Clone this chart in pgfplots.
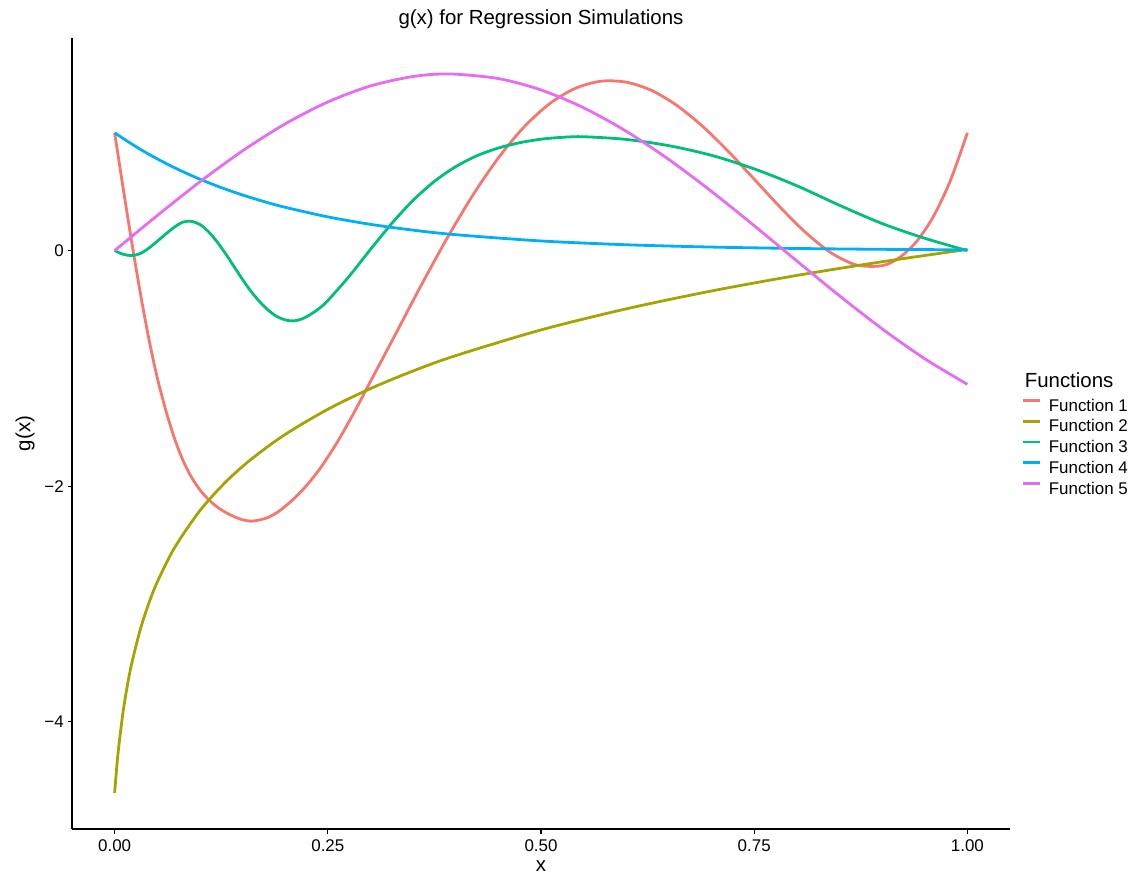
\documentclass[border=0pt]{standalone}
\usepackage{fontspec}
\setmainfont{Liberation Sans}
\usepackage{pgfplots}
\pgfplotsset{compat=1.18}
\definecolor{cA}{HTML}{F8766D}
\definecolor{cB}{HTML}{A3A500}
\definecolor{cC}{HTML}{00BF7D}
\definecolor{cD}{HTML}{00B0F6}
\definecolor{cE}{HTML}{E76BF3}
\begin{document}
\begin{tikzpicture}
\useasboundingbox (0,0) rectangle (1138bp,875bp);
\begin{axis}[
  at={(72bp,46bp)}, anchor=south west,
  scale only axis, width=938bp, height=791bp,
  xmin=-0.05, xmax=1.05, ymin=-4.9105, ymax=1.8053,
  axis x line*=bottom, axis y line*=left,
  axis line style={-, line width=1.2bp, black},
  xtick={0,0.25,0.5,0.75,1}, xticklabels={0.00,0.25,0.50,0.75,1.00},
  ytick={-4,-2,0}, yticklabels={−4,−2,0},
  tick align=outside, major tick length=4.5bp,
  tick style={line width=1.2bp, black},
  ticklabel style={font=\fontsize{17}{17}\selectfont, text=black},
  xticklabel style={anchor=center, yshift=-12.4bp},
  yticklabel style={anchor=east, inner sep=0pt, xshift=-3.6bp},
  title={g(x) for Regression Simulations},
  title style={at={(axis description cs:0.5,1.0164)}, anchor=center, yshift=0pt, font=\fontsize{20.5}{20.5}\selectfont},
  xlabel={x},
  xlabel style={at={(axis description cs:0.5,-0.0468)}, anchor=center, font=\fontsize{20.5}{20.5}\selectfont},
  ylabel={g(x)},
  ylabel style={at={(axis description cs:-0.050,0.5)}, anchor=center, font=\fontsize{20.5}{20.5}\selectfont},
  legend cell align=left,
  legend style={draw=none, fill=none, at={(axis description cs:1.0128,0.571)}, anchor=north west,
    inner sep=0pt, outer sep=0pt, row sep=3.75bp, column sep=7bp,
    nodes={inner sep=0pt, text height=13bp, text depth=4bp},
    font=\fontsize{17}{17}\selectfont},
  legend image code/.code={\draw[#1, line width=2.8bp] (0bp,6.1bp) -- (17bp,6.1bp);},
  every axis plot/.append style={line width=2.8bp, no markers, smooth},
]
\addlegendimage{empty legend}
\addlegendentry{\hspace{-24bp}\raisebox{3bp}{\fontsize{20.5}{20.5}\selectfont Functions}}

\addplot[cA] coordinates {
(0,1.0) (0.01,0.53) (0.02,0.075) (0.03,-0.355) (0.04,-0.745) (0.05,-1.08)
(0.06,-1.355) (0.07,-1.59) (0.08,-1.779) (0.09,-1.922) (0.10,-2.031)
(0.11,-2.113) (0.12,-2.175) (0.13,-2.222) (0.14,-2.258) (0.15,-2.285)
(0.16,-2.297) (0.17,-2.287) (0.18,-2.265) (0.19,-2.226) (0.2,-2.171)
(0.21,-2.108) (0.22,-2.035) (0.23,-1.952) (0.24,-1.859) (0.25,-1.753)
(0.26,-1.639) (0.27,-1.515) (0.28,-1.385) (0.29,-1.249)
(0.3,-1.111) (0.33,-0.701) (0.36,-0.288) (0.39,0.107)
(0.42,0.470) (0.45,0.787) (0.48,1.049) (0.51,1.247) (0.54,1.377)
(0.57,1.438) (0.6,1.430) (0.63,1.359) (0.66,1.229) (0.69,1.052)
(0.72,0.840) (0.75,0.607) (0.78,0.372) (0.81,0.156) (0.84,-0.018)
(0.87,-0.122) (0.9,-0.128) (0.92,-0.061) (0.94,0.074) (0.96,0.288)
(0.98,0.593) (1.0,1.0)
};
\addlegendentry{Function 1}

\addplot[cB] coordinates {
(0,-4.6052) (0.0025,-4.3820) (0.005,-4.1997) (0.01,-3.9120) (0.015,-3.6889)
(0.02,-3.5066) (0.03,-3.2189) (0.04,-2.9957) (0.05,-2.8134) (0.07,-2.5257)
(0.1,-2.2073) (0.13,-1.9661) (0.16,-1.7720) (0.2,-1.5606) (0.25,-1.3471)
(0.3,-1.1712) (0.35,-1.0217) (0.4,-0.8916) (0.5,-0.6733) (0.6,-0.4943)
(0.7,-0.3425) (0.8,-0.2107) (0.9,-0.0943) (1.0,0.0100)
};
\addlegendentry{Function 2}

\addplot[cC] coordinates {
(0,0) (0.01,-0.031) (0.02,-0.042) (0.03,-0.025) (0.04,0.0205) (0.05,0.0795)
(0.06,0.1415) (0.07,0.199) (0.08,0.242) (0.09,0.2485) (0.1,0.222)
(0.11,0.161) (0.12,0.076) (0.13,-0.025) (0.14,-0.135) (0.15,-0.245)
(0.16,-0.347) (0.17,-0.433) (0.18,-0.505) (0.19,-0.558) (0.2,-0.588)
(0.21,-0.597) (0.22,-0.579) (0.23,-0.540) (0.24,-0.49) (0.25,-0.424)
(0.275,-0.218) (0.3,0.010)
(0.325,0.231) (0.35,0.427) (0.375,0.588) (0.4,0.713) (0.425,0.806)
(0.45,0.871) (0.475,0.916) (0.5,0.946) (0.525,0.962) (0.55,0.967)
(0.6,0.944) (0.65,0.891) (0.7,0.809) (0.75,0.694) (0.8,0.551)
(0.85,0.385) (0.9,0.23) (0.95,0.105) (1.0,0.0)
};
\addlegendentry{Function 3}

\addplot[cD] coordinates {
(0,1) (0.025,0.8825) (0.05,0.7788) (0.075,0.6873) (0.1,0.6065) (0.125,0.5353)
(0.15,0.4724) (0.175,0.4169) (0.2,0.3679) (0.25,0.2865) (0.3,0.2231)
(0.35,0.1738) (0.4,0.1353) (0.5,0.0821) (0.6,0.0498) (0.7,0.0302)
(0.8,0.0183) (0.9,0.0111) (1.0,0.0067)
};
\addlegendentry{Function 4}

\addplot[cE] coordinates {
(0,0) (0.05,0.2980) (0.1,0.5841) (0.15,0.8470) (0.2,1.0760) (0.25,1.2622)
(0.3,1.3980) (0.35,1.4782) (0.3927,1.5) (0.45,1.4608) (0.5,1.3640)
(0.55,1.2128) (0.6,1.0132) (0.65,0.7733) (0.7,0.5025) (0.75,0.2117)
(0.8,-0.0876) (0.85,-0.3832) (0.9,-0.6638) (0.95,-0.9179) (1.0,-1.1352)
};
\addlegendentry{Function 5}
\end{axis}
\end{tikzpicture}
\end{document}
